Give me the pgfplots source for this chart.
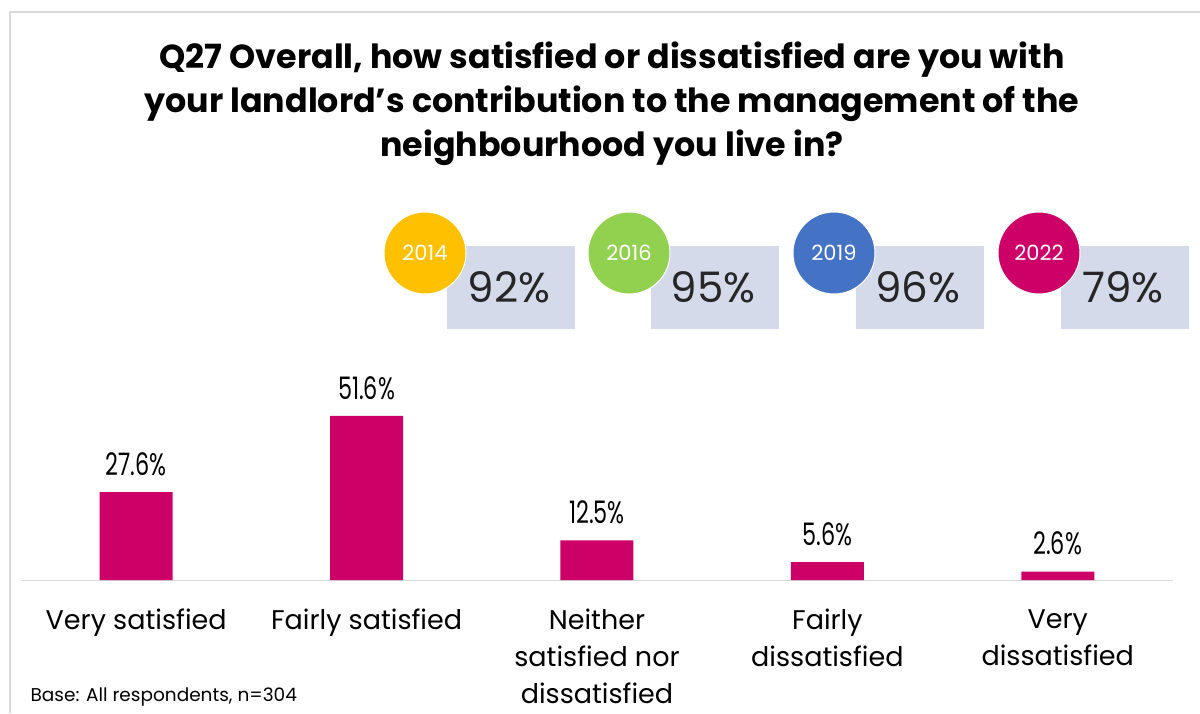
\documentclass[border=0pt]{standalone}
\usepackage{fontspec}
\setmainfont{Poppins}
\newfontfamily\narrowfont[FakeStretch=0.72]{Poppins}
\usepackage{pgfplots}
\pgfplotsset{compat=1.18}
\definecolor{barc}{HTML}{CC0066}
\definecolor{boxc}{HTML}{D5DAEB}
\definecolor{c14}{HTML}{FFC000}
\definecolor{c16}{HTML}{92D050}
\definecolor{c19}{HTML}{4472C4}
\definecolor{c22}{HTML}{CC0066}
\definecolor{framec}{HTML}{D9D9D9}
\begin{document}
\begin{tikzpicture}[x=1pt,y=1pt]
\path[use as bounding box] (0pt,0pt) rectangle (1200pt,713pt);
\draw[framec, line width=1.5pt] (10pt,0pt) -- (10pt,701pt) -- (1200pt,701pt);
\node[font=\fontsize{33.3}{44}\selectfont\bfseries, align=center] at (612pt,609pt)
  {Q27 Overall, how satisfied or dissatisfied are you with\\your landlord’s contribution to the management of the\\neighbourhood you live in?};
\begin{axis}[
  at={(21pt,133pt)}, anchor=south west,
  scale only axis, width=1152pt, height=190.8pt,
  xmin=-0.5, xmax=4.5, ymin=0, ymax=60,
  axis x line=bottom, axis y line=none,
  x axis line style={-, draw=framec, line width=1pt},
  xtick=data, major tick length=0pt,
  xticklabels={{Very satisfied},{Fairly satisfied},{Neither\\satisfied nor\\dissatisfied},{Fairly\\dissatisfied},{Very\\dissatisfied}},
  xticklabel style={align=center, anchor=north, yshift=-29pt, inner sep=0pt, font=\fontsize{27}{37}\selectfont},
  ybar, bar width=73pt,
  /pgf/number format/assume math mode=true,
  nodes near coords={\pgfmathprintnumber[fixed,precision=1,fixed zerofill]{\pgfplotspointmeta}\%},
  every node near coord/.append style={font=\narrowfont\fontsize{31}{34}\selectfont, anchor=center, yshift=28pt, text=black},
  clip=false,
]
\addplot[fill=barc, draw=none] coordinates {(0,27.6) (1,51.6) (2,12.5) (3,5.6) (4,2.6)};
\end{axis}
\foreach \cx/\col/\yr/\pc in {425/c14/2014/92, 629/c16/2016/95, 834/c19/2019/96, 1039/c22/2022/79} {
  \fill[boxc] (\cx pt+22pt,384pt) rectangle (\cx pt+150pt,467pt);
  \node[font=\fontsize{42}{44}\selectfont, text=black!85] at (\cx pt+84pt,426pt) {\pc\%};
  \filldraw[fill=\col, draw=white, line width=1pt] (\cx pt,460pt) circle (41pt);
  \node[font=\fontsize{21}{22}\selectfont, text=white] at (\cx pt,460pt) {\yr};
}
\node[anchor=west, font=\fontsize{18.5}{20}\selectfont] at (27pt,16pt) {Base: All respondents, n=304};
\end{tikzpicture}
\end{document}
